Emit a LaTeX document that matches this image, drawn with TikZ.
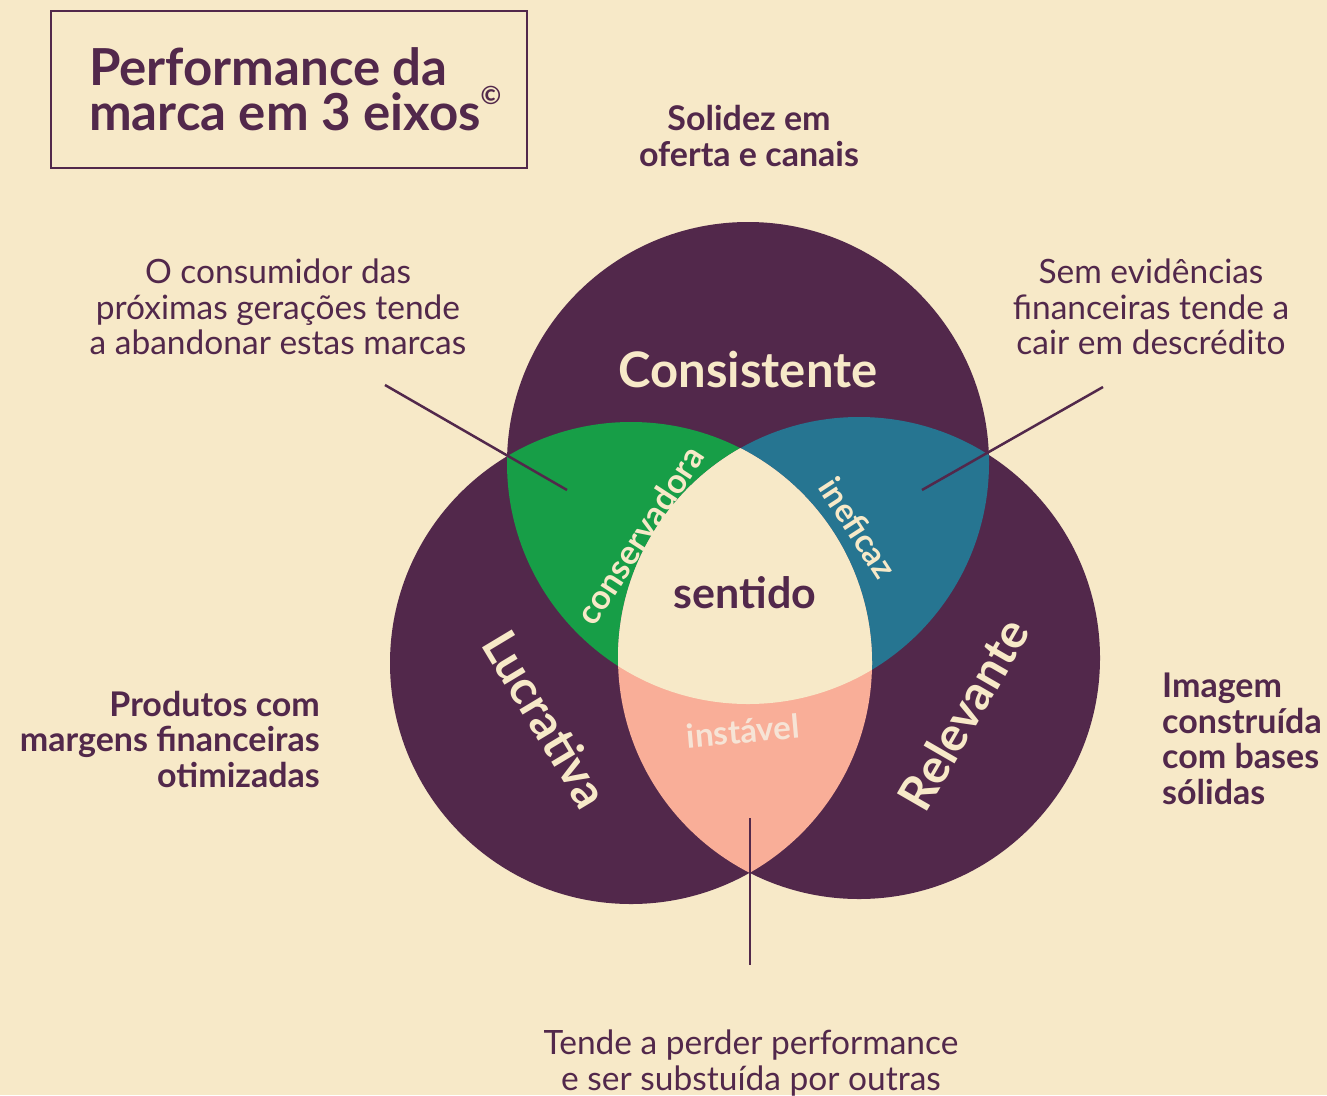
\documentclass[tikz,border=0pt]{standalone}
\usepackage{fontspec}
\setmainfont{Lato}
\definecolor{creme}{HTML}{F7E9C8}
\definecolor{ameixa}{HTML}{52284B}
\definecolor{verde}{HTML}{179E47}
\definecolor{petroleo}{HTML}{267591}
\definecolor{salmao}{HTML}{F9AE98}
\definecolor{rosado}{HTML}{F6E4D6}
\tikzset{
	eixo/.style={font=\fontsize{48}{48}\selectfont\bfseries, text=creme},
	zona/.style={font=\fontsize{34}{34}\selectfont\bfseries, text=creme},
	nota/.style={font=\fontsize{33.5}{35.5}\selectfont, text=ameixa, align=center},
	forte/.style={font=\fontsize{34}{35.5}\selectfont\bfseries, text=ameixa},
	fio/.style={draw=ameixa, line width=2.5},
}
\begin{document}
\begin{tikzpicture}[x=1pt, y=-1pt, inner sep=0]
		\fill[creme] (0,0) rectangle (1327,1095);
		\useasboundingbox (0,0) rectangle (1327,1095);
		\def\raio{241}
		\coordinate (cons) at (748,463);
		\coordinate (lucr) at (631,663);
		\coordinate (rel) at (859,658);
		% os tres eixos
		\foreach \c in {cons,lucr,rel}
			\fill[ameixa] (\c) circle (\raio);
		\begin{scope}
			\clip (cons) circle (\raio);
			\fill[verde] (lucr) circle (\raio);
			\fill[petroleo] (rel) circle (\raio);
		\end{scope}
		\begin{scope}
			\clip (lucr) circle (\raio);
			\fill[salmao] (rel) circle (\raio);
			\clip (rel) circle (\raio);
			\fill[creme] (cons) circle (\raio);
		\end{scope}
		% titulo
		\draw[ameixa, line width=2.5] (51,11) rectangle (527,168);
		\node[anchor=north west, align=left, text=ameixa, font=\fontsize{51}{44}\selectfont\bfseries] (titulo) at (89,47)
			{Performance da\\marca em 3 eixos\raisebox{0.5em}{\fontsize{25}{25}\selectfont ©}};
		% rotulos
		\node[eixo, font=\fontsize{49}{49}\selectfont\bfseries] (consistente) at (748,370) {Consistente};
		\node[eixo, rotate=-59] (lucrativa) at (546,719) {Lucrativa};
		\node[eixo, rotate=60] (relevante) at (963,714) {Relevante};
		\node[zona, rotate=57] (conservadora) at (640,535) {conservadora};
		\node[zona, font=\fontsize{33}{33}\selectfont\bfseries, rotate=-57] (ineficaz) at (858,528) {ineficaz};
		\node[zona, text=rosado, font=\fontsize{33}{33}\selectfont\bfseries, rotate=5] (instavel) at (743,731) {instável};
		\node[forte, font=\fontsize{43}{43}\selectfont\bfseries] (sentido) at (745,593) {sentido};
		% notas
		\node[forte, align=center] (solidez) at (749,136) {Solidez em\\oferta e canais};
		\node[nota] (gerações) at (278,307) {O consumidor das\\próximas gerações tende\\a abandonar estas marcas};
		\node[nota] (credito) at (1151,307) {Sem evidências\\financeiras tende a\\cair em descrédito};
		\node[forte, align=right, anchor=east] (produtos) at (320,739) {Produtos com\\margens financeiras\\otimizadas};
		\node[forte, align=left, anchor=west] (imagem) at (1162,739) {Imagem\\construída\\com bases\\sólidas};
		\node[nota] (perder) at (751,1063) {Tende a perder performance\\e ser substuída por outras};
		% ligacoes
		\coordinate (a1) at (385,385);
		\coordinate (a2) at (567,490);
		\coordinate (b1) at (1103,387);
		\coordinate (b2) at (922,490);
		\coordinate (c1) at (750,818);
		\coordinate (c2) at (750,965);
		\draw[fio] (a1) -- (a2);
		\draw[fio] (b1) -- (b2);
		\draw[fio] (c1) -- (c2);
	\end{tikzpicture}
\end{document}
